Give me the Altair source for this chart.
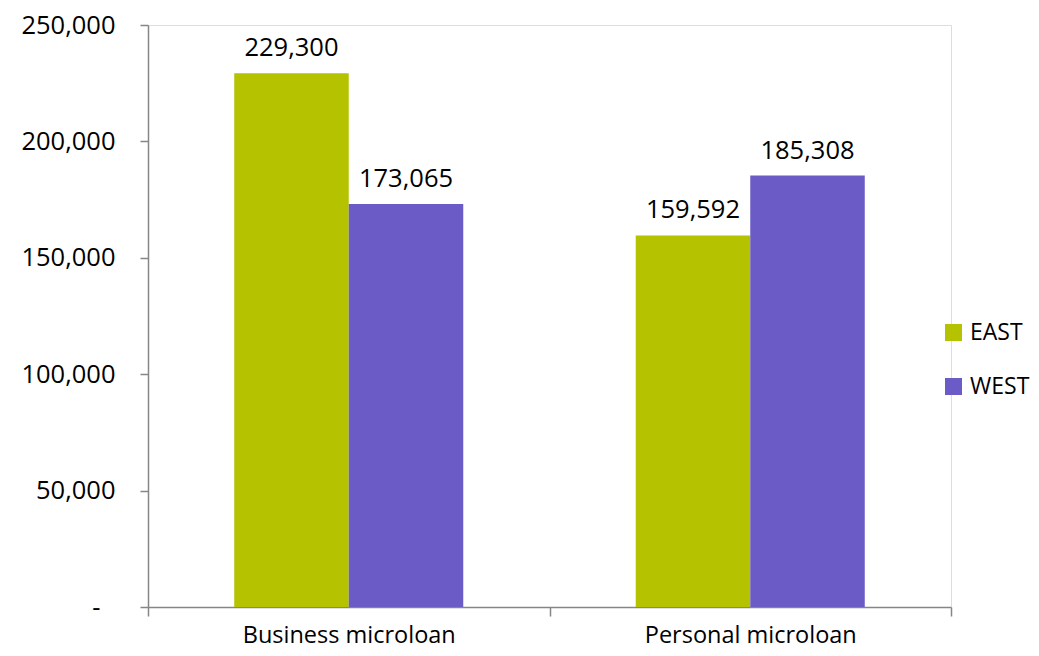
import altair as alt
import pandas as pd

categories = ["Business microloan", "Personal microloan"]
regions = ["EAST", "WEST"]
east_values = [229300, 159592]
west_values = [173065, 185308]
colors = ["#B5C200", "#6A5BC7"]

rows = []
for i, c in enumerate(categories):
    rows.append({"category": c, "region": "EAST", "value": east_values[i]})
    rows.append({"category": c, "region": "WEST", "value": west_values[i]})
df = pd.DataFrame(rows)

FONT = "Open Sans"
AXIS_COLOR = "#868686"
NUM_SIZE = 25.5

x_enc = alt.X(
    "category:N",
    sort=categories,
    title=None,
    scale=alt.Scale(paddingInner=0, paddingOuter=0),
    axis=alt.Axis(
        tickBand="extent",
        labelAngle=0,
        labelFont=FONT,
        labelFontSize=23.5,
        labelColor="#000000",
        labelPadding=7,
        labelLimit=0,
        domainColor=AXIS_COLOR,
        domainWidth=1.5,
        tickColor=AXIS_COLOR,
        tickWidth=1.5,
        tickSize=9,
    ),
)
xoff = alt.XOffset(
    "region:N",
    sort=regions,
    scale=alt.Scale(paddingInner=0, paddingOuter=0.753),
)

y_enc = alt.Y(
    "value:Q",
    title=None,
    scale=alt.Scale(domain=[0, 250000], nice=False),
    axis=alt.Axis(
        values=[0, 50000, 100000, 150000, 200000, 250000],
        labelExpr="datum.value == 0 ? '-' : format(datum.value, ',')",
        labelFont=FONT,
        labelFontSize=NUM_SIZE,
        labelColor="#000000",
        labelPadding={"condition": {"test": "datum.value == 0", "value": 40}, "value": 25},
        grid=False,
        domainColor=AXIS_COLOR,
        domainWidth=1.5,
        tickColor=AXIS_COLOR,
        tickWidth=1.5,
        tickSize=8,
    ),
)

color_enc = alt.Color(
    "region:N",
    sort=regions,
    scale=alt.Scale(domain=regions, range=colors),
    legend=alt.Legend(
        title=None,
        orient="none",
        legendX=794,
        legendY=296,
        symbolType="square",
        symbolSize=289,
        symbolStrokeWidth=0,
        labelFont=FONT,
        labelFontSize=23,
        labelColor="#000000",
        labelOffset=5,
        rowPadding=30,
    ),
)

bars = alt.Chart(df).mark_bar(size=114.5).encode(
    x=x_enc, xOffset=xoff, y=y_enc, color=color_enc
)

labels = alt.Chart(df).mark_text(
    baseline="bottom", dy=-12, font=FONT, fontSize=NUM_SIZE, color="#000000"
).encode(
    x=alt.X("category:N", sort=categories),
    xOffset=alt.XOffset("region:N", sort=regions),
    y="value:Q",
    text=alt.Text("value:Q", format=","),
)

chart = (
    alt.layer(bars, labels)
    .properties(
        width=803,
        height=582,
        autosize=alt.AutoSizeParams(type="none"),
        padding={"left": 140, "top": 17, "right": 80, "bottom": 41},
    )
    .configure_view(stroke=None)
    .configure(background="#ffffff")
)

chart.save("out.html", embed_options={"renderer": "svg", "actions": False})
